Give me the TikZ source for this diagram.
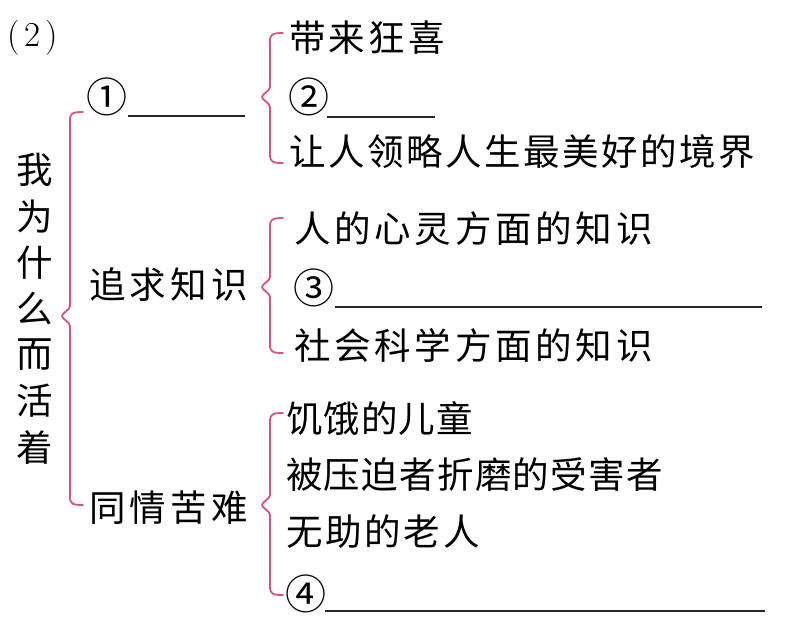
\documentclass[tikz,border=0pt]{standalone}
\usepackage{fontspec}
\newfontfamily\cjk{Noto Sans CJK SC}
\definecolor{bracepink}{RGB}{218,82,132}
\def\lsgap{0}
\def\lsloop#1{\ifx\relax#1\else#1\kern\lsgap pt\relax\expandafter\lsloop\fi}
\newcommand\spaced[2]{\def\lsgap{#1}\lsloop#2\relax}
\newcommand\mybrace[5]{% x, top, mid, bottom, hook x
  \draw[bracestyle] (#5,#2) .. controls (#1+3,#2) and (#1,#2+1) .. (#1,#2+8)
    -- (#1,#3-10) .. controls (#1,#3-6) and (#1-8,#3-3) .. (#1-8,#3)
    .. controls (#1-8,#3+3) and (#1,#3+6) .. (#1,#3+10)
    -- (#1,#4-8) .. controls (#1,#4-1) and (#1+3,#4) .. (#5,#4);}
\begin{document}
\begin{tikzpicture}[x=1pt,y=-1pt,
  txt/.style={inner sep=0pt,anchor=west,font=\cjk\fontsize{36.5}{40}\selectfont},
  num/.style={inner sep=0pt,anchor=west,font=\cjk\fontsize{41}{44}\selectfont},
  vchar/.style={inner sep=0pt,anchor=center,font=\cjk\fontsize{36.5}{40}\selectfont},
  bracestyle/.style={draw=bracepink,line width=1.8pt,line cap=round},
  uline/.style={draw=black!85,line width=1.4pt}]
\useasboundingbox (0,0) rectangle (791,626);
% title
\node[inner sep=0pt,anchor=west,font=\fontsize{35}{38}\selectfont] (title) at (7,38) {(\kern5pt2\kern5pt)};
% vertical root text
\foreach \c [count=\i from 0] in {我,为,什,么,而,活,着}
  \node[vchar] (v\i) at (35,{170+46.2*\i}) {\c};
% level 1
\node[num] (n1) at (86,97) {①};
\coordinate (u1a) at (128,116); \coordinate (u1b) at (245,116);
\draw[uline] (u1a) -- (u1b);
\node[txt] (m2) at (89,285) {\spaced{4.2}{追求知识}};
\node[txt] (m3) at (89,508) {\spaced{4.2}{同情苦难}};
% big brace
\mybrace{70}{112}{316}{505}{83}
% brace 2 children
\node[txt] (c21) at (289,38) {\spaced{3.2}{带来狂喜}};
\node[num] (c22) at (288,97) {②};
\coordinate (u2a) at (327,117); \coordinate (u2b) at (435,117);
\draw[uline] (u2a) -- (u2b);
\node[txt] (c23) at (289,152) {\spaced{2.5}{让人领略人生最美好的境界}};
\mybrace{270}{33}{97}{163}{283}
% brace 3 children
\node[txt] (c31) at (294,229) {\spaced{3.75}{人的心灵方面的知识}};
\node[num] (c32) at (293,288) {③};
\coordinate (u3a) at (335,307); \coordinate (u3b) at (762,307);
\draw[uline] (u3a) -- (u3b);
\node[txt] (c33) at (294,345) {\spaced{3.75}{社会科学方面的知识}};
\mybrace{270}{218}{287}{353}{283}
% brace 4 children
\node[txt] (c41) at (286,418) {\spaced{1.0}{饥饿的儿童}};
\node[txt] (c42) at (286,475) {\spaced{1.3}{被压迫者折磨的受害者}};
\node[txt] (c43) at (286,532) {\spaced{2.75}{无助的老人}};
\node[num] (c44) at (285,594) {④};
\coordinate (u4a) at (325,611); \coordinate (u4b) at (765,611);
\draw[uline] (u4a) -- (u4b);
\mybrace{270}{413}{505}{595}{283}
\end{tikzpicture}
\end{document}
